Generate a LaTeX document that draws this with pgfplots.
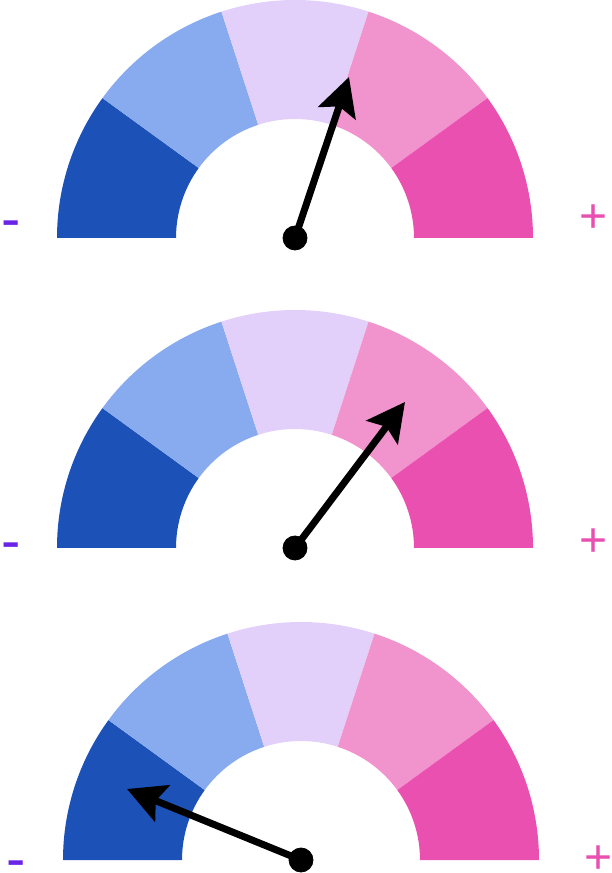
\documentclass[border=0pt]{standalone}
\usepackage{pgfplots}
\pgfplotsset{compat=1.18}
\usepackage{fontspec}
\setmainfont{Liberation Sans}
\usetikzlibrary{calc,arrows.meta}

\definecolor{c1}{HTML}{1C52B8}
\definecolor{c2}{HTML}{88AAEE}
\definecolor{c3}{HTML}{E3D0FA}
\definecolor{c4}{HTML}{F193CD}
\definecolor{c5}{HTML}{EA50B0}
\definecolor{minuscol}{HTML}{6B23E6}
\definecolor{pluscol}{HTML}{E94FB0}

\tikzset{
  minuslabel/.style={minuscol, inner sep=0pt, anchor=base, font=\fontsize{29}{30}\selectfont},
  pluslabel/.style={pluscol, inner sep=0pt, anchor=base, font=\fontsize{24}{28}\selectfont},
}

% one band of a gauge: centre x, centre y, start angle, end angle, colour
\newcommand\sector[5]{%
  \fill[#5] ($(axis cs:#1,#2)+(#3:119pt)$) arc[start angle=#3,end angle=#4,radius=119pt]
    -- ($(axis cs:#1,#2)+(#4:59.5pt)$) arc[start angle=#4,end angle=#3,radius=59.5pt] -- cycle;}
\newcommand\gauge[2]{%
  \sector{#1}{#2}{180}{144}{c1}
  \sector{#1}{#2}{144}{108}{c2}
  \sector{#1}{#2}{108}{72}{c3}
  \sector{#1}{#2}{72}{36}{c4}
  \sector{#1}{#2}{36}{0}{c5}}

\begin{document}
\begin{tikzpicture}
\begin{axis}[
    x=0.5pt, y=0.5pt,
    xmin=0, xmax=611,
    ymin=0, ymax=873,
    hide axis,
    clip=false,
    needle/.style={black, line width=3.5pt, -{Stealth[length=19pt,width=19.5pt,inset=3.5pt]}},
    hub/.style={only marks, mark=*, mark size=6pt, mark options={fill=black,draw=black}},
]
% top gauge
\gauge{295}{635}
\addplot[needle] coordinates {(295,635) (349,796)};
\addplot[hub] coordinates {(295,635)};
\node[minuslabel] at (axis cs:11.5,634.5) {-};
\node[pluslabel] at (axis cs:594,640) {+};

% middle gauge
\gauge{295}{325}
\addplot[needle] coordinates {(295,325) (405,471)};
\addplot[hub] coordinates {(295,325)};
\node[minuslabel] at (axis cs:11.5,312) {-};
\node[pluslabel] at (axis cs:594,316) {+};

% bottom gauge
\gauge{301}{13}
\addplot[needle] coordinates {(301,13) (127,84)};
\addplot[hub] coordinates {(301,13)};
\node[minuslabel] at (axis cs:16,-5.5) {-};
\node[pluslabel] at (axis cs:599,0) {+};
\end{axis}
\pgfresetboundingbox
\path (current axis.south west) rectangle (current axis.north east);
\end{tikzpicture}
\end{document}
